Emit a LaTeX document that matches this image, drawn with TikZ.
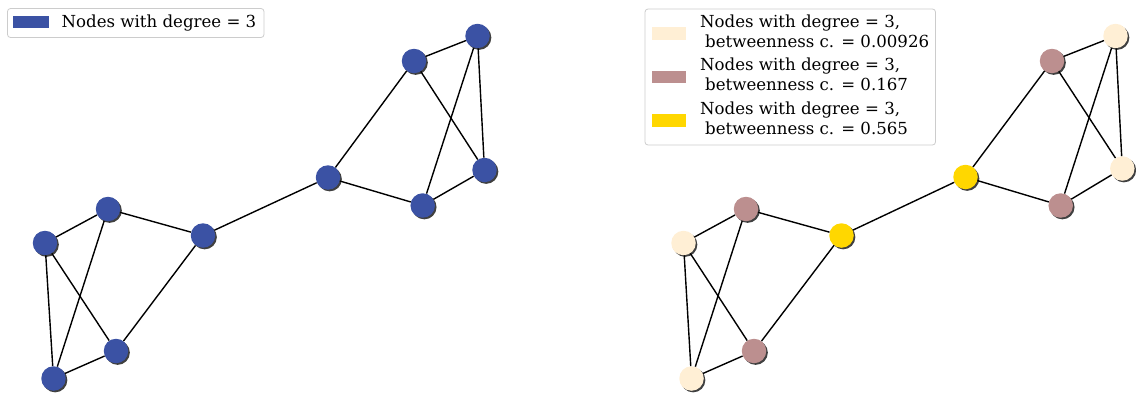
\documentclass[tikz,border=0pt]{standalone}
\usepackage{fontspec}
\setmainfont{DejaVu Serif}
\usepackage{tikz}
\usetikzlibrary{shadows}
\definecolor{degblue}{RGB}{59,82,164}
\definecolor{btwlow}{RGB}{255,239,213}
\definecolor{btwmid}{RGB}{188,143,143}
\definecolor{btwhigh}{RGB}{255,215,0}

\begin{document}
\begin{tikzpicture}[x=1pt,y=-1pt,
   vertex/.style={circle,inner sep=0pt,minimum size=24.5pt,
      drop shadow={shadow xshift=1.6pt,shadow yshift=-1.6pt,fill=black,opacity=.75}},
   legframe/.style={draw=black!20,fill=white,rounded corners=3pt,line width=0.8pt},
   legtext/.style={anchor=base west,inner sep=0pt,font=\fontsize{16.6}{20}\selectfont}]
   \useasboundingbox (0,0) rectangle (1136,394);

   % left graph
   \node[vertex,fill=degblue] (l1) at (45,243) {};
   \node[vertex,fill=degblue] (l2) at (108,209) {};
   \node[vertex,fill=degblue] (l3) at (203,235.5) {};
   \node[vertex,fill=degblue] (l4) at (116,351) {};
   \node[vertex,fill=degblue] (l5) at (53.5,378.5) {};
   \node[vertex,fill=degblue] (l6) at (328,177.5) {};
   \node[vertex,fill=degblue] (l7) at (414,61) {};
   \node[vertex,fill=degblue] (l8) at (477.5,36) {};
   \node[vertex,fill=degblue] (l9) at (484.5,170) {};
   \node[vertex,fill=degblue] (l10) at (422.7,205.5) {};

   \path[line width=1.4pt]
   (l1) edge (l2)
   (l1) edge (l4)
   (l1) edge (l5)
   (l2) edge (l3)
   (l2) edge (l5)
   (l3) edge (l4)
   (l3) edge (l6)
   (l4) edge (l5)
   (l6) edge (l7)
   (l6) edge (l10)
   (l7) edge (l8)
   (l7) edge (l9)
   (l8) edge (l9)
   (l8) edge (l10)
   (l9) edge (l10);

   % right graph
   \node[vertex,fill=btwlow] (r1) at (683.5,243) {};
   \node[vertex,fill=btwmid] (r2) at (746,209) {};
   \node[vertex,fill=btwhigh] (r3) at (841.5,235.5) {};
   \node[vertex,fill=btwmid] (r4) at (754,351) {};
   \node[vertex,fill=btwlow] (r5) at (691.5,378.5) {};
   \node[vertex,fill=btwhigh] (r6) at (965.5,177) {};
   \node[vertex,fill=btwmid] (r7) at (1052,61) {};
   \node[vertex,fill=btwlow] (r8) at (1115.5,36) {};
   \node[vertex,fill=btwlow] (r9) at (1122.3,168.5) {};
   \node[vertex,fill=btwmid] (r10) at (1060.7,205.5) {};

   \path[line width=1.4pt]
   (r1) edge (r2)
   (r1) edge (r4)
   (r1) edge (r5)
   (r2) edge (r3)
   (r2) edge (r5)
   (r3) edge (r4)
   (r3) edge (r6)
   (r4) edge (r5)
   (r6) edge (r7)
   (r6) edge (r10)
   (r7) edge (r8)
   (r7) edge (r9)
   (r8) edge (r9)
   (r8) edge (r10)
   (r9) edge (r10);

   % legends
   \draw[legframe] (7.5,8.5) rectangle (264,37.5);
   \fill[degblue] (13,16) rectangle (49,28.3);
   \node[legtext] (degkey) at (61.5,27.3) {Nodes with degree = 3};

   \draw[legframe] (645,9) rectangle (935.5,145);
   \fill[btwlow] (651.7,27.3) rectangle (686,40);
   \fill[btwmid] (651.7,70.7) rectangle (686,83.3);
   \fill[btwhigh] (651.7,114.3) rectangle (686,127.3);
   \node[legtext] (lowa) at (700,27.3) {Nodes with degree = 3,};
   \node[legtext] (lowb) at (705,47.3) {betweenness c. = 0.00926};
   \node[legtext] (mida) at (700,70.8) {Nodes with degree = 3,};
   \node[legtext] (midb) at (705,90.8) {betweenness c. = 0.167};
   \node[legtext] (higha) at (700,114.3) {Nodes with degree = 3,};
   \node[legtext] (highb) at (705,134.3) {betweenness c. = 0.565};
\end{tikzpicture}
\end{document}
